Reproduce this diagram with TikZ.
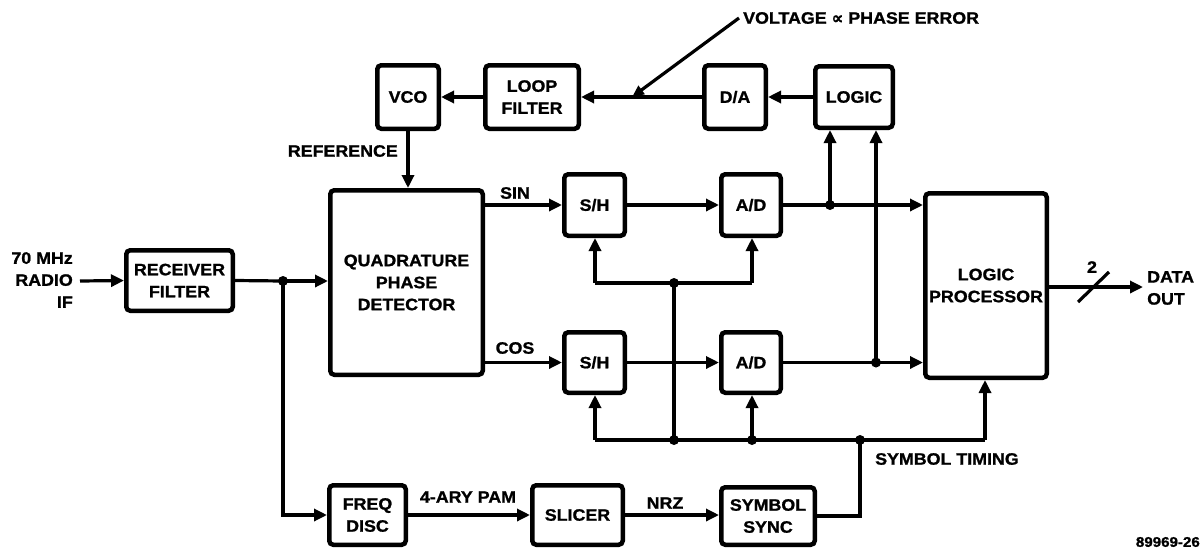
\documentclass[tikz,border=0pt]{standalone}
\usepackage{fontspec}
\setmainfont{Liberation Sans}[FakeStretch=1.08,BoldFeatures={FakeBold=1.2}]
\newfontfamily\symfont{DejaVu Sans}[BoldFeatures={FakeBold=1.2}]
\usetikzlibrary{arrows.meta,calc}
\begin{document}
\begin{tikzpicture}[x=1pt,y=-1pt,
  every node/.style={font=\bfseries\fontsize{16.5}{22}\selectfont},
  blk/.style={draw,line width=4.5pt,rounded corners=4pt,inner sep=0pt,align=center},
  lbl/.style={inner sep=0pt,align=center},
  wire/.style={line width=3.2pt},
  arr/.style={wire,-{Triangle[length=13pt,width=12pt]}},
  dot/.style={circle,fill,inner sep=0pt,minimum size=10pt}]
\useasboundingbox (0,0) rectangle (1201,549);
% blocks
\node[blk,minimum width=106.5pt,minimum height=60.5pt] (rf) at (179.5,280.5) {RECEIVER\\FILTER};
\node[blk,minimum width=152.5pt,minimum height=184.5pt] (qpd) at (406.5,282.5) {QUADRATURE\\PHASE\\DETECTOR};
\node[blk,minimum width=61.5pt,minimum height=63.5pt] (vco) at (408,97) {VCO};
\node[blk,minimum width=93.5pt,minimum height=63.5pt] (lf) at (532,97) {LOOP\\FILTER};
\node[blk,minimum width=61.5pt,minimum height=63.5pt] (da) at (735,97) {D/A};
\node[blk,minimum width=77.5pt,minimum height=61.5pt] (logic) at (854,97) {LOGIC};
\node[blk,minimum width=60.5pt,minimum height=61.5pt] (sh1) at (594.5,205) {S/H};
\node[blk,minimum width=59.5pt,minimum height=61.5pt] (ad1) at (751,205) {A/D};
\node[blk,minimum width=60.5pt,minimum height=60.5pt] (sh2) at (594.5,362.5) {S/H};
\node[blk,minimum width=59.5pt,minimum height=60.5pt] (ad2) at (751,362.5) {A/D};
\node[blk,minimum width=121.5pt,minimum height=184.5pt] (lp) at (986,285.5) {LOGIC\\PROCESSOR};
\node[blk,minimum width=76.5pt,minimum height=59.5pt] (fd) at (367.5,515) {FREQ\\DISC};
\node[blk,minimum width=90.5pt,minimum height=59.5pt] (sl) at (577.5,515) {SLICER};
\node[blk,minimum width=93.5pt,minimum height=57.5pt] (ss) at (768,516) {SYMBOL\\SYNC};
% labels
\node[lbl,anchor=east,align=right] (inlbl) at (73,280) {70 MHz\\RADIO\\IF};
\node[lbl] (sin) at (515,193) {SIN};
\node[lbl] (cos) at (515,348) {COS};
\node[lbl,anchor=east] (ref) at (398,151) {REFERENCE};
\node[lbl] (pam) at (468,497) {4-ARY PAM};
\node[lbl] (nrz) at (665,503) {NRZ};
\node[lbl,anchor=west] (st) at (875,459) {SYMBOL TIMING};
\node[lbl,anchor=west] (volt) at (743,18) {VOLTAGE {\symfont\bfseries ∝} PHASE ERROR};
\node[lbl,anchor=west,align=left] (dout) at (1147,288) {DATA\\OUT};
\node[lbl] (two) at (1092,267) {2};
\node[lbl,anchor=east,font=\bfseries\fontsize{14}{16}\selectfont] (fig) at (1200,542) {89969-26};
% coordinates
\coordinate (inp) at (80,281);
\coordinate (j1) at (283,281);
\coordinate (ck1) at (674,283);
\coordinate (ck1l) at (595,283);
\coordinate (ck1r) at (752,283);
\coordinate (ck2l) at (595,440);
\coordinate (ck2a) at (674,440);
\coordinate (ck2b) at (752,440);
\coordinate (ck2c) at (860,440);
\coordinate (ck2r) at (985,440);
\coordinate (jd1) at (830,205);
\coordinate (jd2) at (876,362.5);
\coordinate (out) at (1143,287);
\coordinate (sl1) at (1078,302);
\coordinate (sl2) at (1109,272);
\coordinate (ptr0) at (739,18);
\coordinate (ptr1) at (632,97);
% signal path
\draw[arr] (inp) -- (rf.west);
\draw[wire] (rf.east) -- (j1);
\draw[arr] (j1) -- (qpd.west |- j1);
\draw[arr] (j1) |- (fd.west);
\draw[arr] (fd.east) -- (sl.west);
\draw[arr] (sl.east) -- (ss.west |- sl.east);
\draw[wire] (ss.east) -| (ck2c);
% VCO loop
\draw[arr] (logic.west) -- (da.east);
\draw[arr] (da.west) -- (lf.east);
\draw[arr] (lf.west) -- (vco.east);
\draw[arr] (vco.south) -- (qpd.north -| vco.south);
\draw[wire,-{Triangle[length=12pt,width=10pt]}] (ptr0) -- (ptr1);
% I/Q paths
\draw[arr] (qpd.east |- sh1.west) -- (sh1.west);
\draw[arr] (sh1.east) -- (ad1.west);
\draw[arr] (ad1.east) -- (lp.west |- ad1.east);
\draw[arr] (qpd.east |- sh2.west) -- (sh2.west);
\draw[arr] (sh2.east) -- (ad2.west);
\draw[arr] (ad2.east) -- (lp.west |- ad2.east);
\draw[arr] (jd1) -- (logic.south -| jd1);
\draw[arr] (jd2) -- (logic.south -| jd2);
% clocks
\draw[wire] (ck1l) -- (ck1r);
\draw[arr] (ck1l) -- (sh1.south -| ck1l);
\draw[arr] (ck1r) -- (ad1.south -| ck1r);
\draw[wire] (ck1) -- (ck2a);
\draw[wire] (ck2l) -- (ck2r);
\draw[arr] (ck2l) -- (sh2.south -| ck2l);
\draw[arr] (ck2b) -- (ad2.south -| ck2b);
\draw[arr] (ck2r) -- (lp.south -| ck2r);
% output
\draw[arr] (lp.east |- out) -- (out);
\draw[wire] (sl1) -- (sl2);
% dots
\foreach \p in {j1,ck1,ck2a,ck2b,ck2c,jd1,jd2} \fill (\p) circle (5pt);
\end{tikzpicture}
\end{document}
